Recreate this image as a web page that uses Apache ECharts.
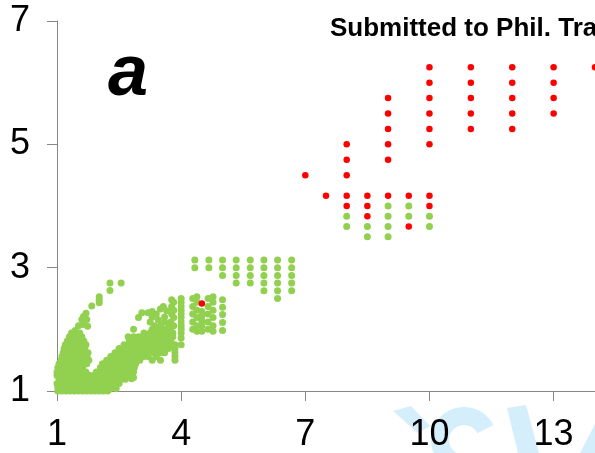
<!DOCTYPE html>
<html>
<head>
<meta charset="utf-8">
<script src="https://cdn.jsdelivr.net/npm/echarts@6/dist/echarts.min.js"></script>
<style>
  html, body { margin: 0; padding: 0; background: #fff; }
  #chart { width: 595px; height: 453px; }
</style>
</head>
<body>
<div id="chart"></div>
<script>
// Dense base of the low-ratio cloud (y close to 1)
var greenBase = [
  [1.02,1],[1.12,1],[1.22,1],[1.32,1],[1.42,1],[1.52,1],[1.62,1],[1.72,1],[1.82,1],[1.92,1],[2.02,1],[2.12,1],[2.22,1],
  [1.07,1.03],[1.27,1.03],[1.47,1.03],[1.67,1.03],[1.87,1.03],[2.07,1.03],[2.27,1.03],[2.43,1.04],
  [1.02,1.06],[1.12,1.06],[1.22,1.06],[1.32,1.06],[1.42,1.06],[1.52,1.06],[1.62,1.06],[1.72,1.06],[1.82,1.06],[1.92,1.06],[2.02,1.06],[2.12,1.06],[2.22,1.06],[2.32,1.06],
  [1,1.12],[1.1,1.12],[1.2,1.12],[1.3,1.12],[1.4,1.12],[1.5,1.12],[1.6,1.12],[1.7,1.12],[1.8,1.12],[1.9,1.12],[2,1.12],[2.1,1.12],[2.2,1.12],[2.3,1.12],[2.4,1.12],[2.5,1.12],
  [1.05,1.19],[1.15,1.19],[1.25,1.19],[1.35,1.19],[1.45,1.19],[1.55,1.19],[1.65,1.19],[1.75,1.19],[1.85,1.19],[1.95,1.19],[2.05,1.19],[2.15,1.19],[2.25,1.19],[2.35,1.19],[2.45,1.19],[2.55,1.19],[2.65,1.19],[2.8,1.2],
  [1,1.25],[1.1,1.25],[1.2,1.25],[1.3,1.25],[1.4,1.25],[1.5,1.25],[1.6,1.25],[1.7,1.25],[1.8,1.25],[1.9,1.25],[2,1.25],[2.1,1.25],[2.2,1.25],[2.3,1.25],[2.4,1.25],[2.5,1.25],[2.6,1.25],[2.7,1.25],[2.85,1.22]
];

// Steep branch rising from x ~ 1
var greenSteep = [
  [1,1.31],[1.1,1.31],[1.2,1.31],[1.3,1.31],[1.4,1.31],[1.5,1.31],[1.6,1.31],[1.7,1.31],
  [1.02,1.38],[1.12,1.38],[1.22,1.38],[1.32,1.38],[1.42,1.38],[1.52,1.38],[1.62,1.38],
  [1.05,1.44],[1.15,1.44],[1.25,1.44],[1.35,1.44],[1.45,1.44],[1.55,1.44],[1.65,1.44],[1.72,1.44],
  [1.1,1.5],[1.2,1.5],[1.3,1.5],[1.4,1.5],[1.5,1.5],[1.6,1.5],[1.7,1.5],[1.77,1.5],
  [1.12,1.56],[1.22,1.56],[1.32,1.56],[1.42,1.56],[1.52,1.56],[1.62,1.56],[1.72,1.56],
  [1.15,1.62],[1.25,1.62],[1.35,1.62],[1.45,1.62],[1.55,1.62],[1.65,1.62],[1.75,1.62],
  [1.17,1.69],[1.27,1.69],[1.37,1.69],[1.47,1.69],[1.57,1.69],[1.67,1.69],
  [1.2,1.75],[1.3,1.75],[1.4,1.75],[1.5,1.75],[1.6,1.75],[1.7,1.75],
  [1.25,1.81],[1.35,1.81],[1.45,1.81],[1.55,1.81],[1.65,1.81],
  [1.3,1.88],[1.4,1.88],[1.5,1.88],[1.6,1.88],
  [1.35,1.94],[1.45,1.94],[1.55,1.94],
  [1.44,1.98],[1.52,2.06],[1.62,2.08],[1.74,2.05],[1.6,2.16],[1.72,2.16],[1.64,2.21],[1.7,2.26],
  [1.84,2.38],[2.02,2.43],[2.02,2.48],[2.02,2.53],[2.28,2.63],[2.28,2.75],[2.55,2.75]
];

// Gentler branch from x ~ 2 up to x ~ 5
var greenShallow = [
  [1.95,1.31],[2.05,1.31],[2.15,1.31],[2.25,1.31],[2.35,1.31],[2.45,1.31],[2.55,1.31],[2.65,1.31],[2.75,1.31],[2.85,1.31],
  [2.05,1.38],[2.15,1.38],[2.25,1.38],[2.35,1.38],[2.45,1.38],[2.55,1.38],[2.65,1.38],[2.75,1.38],[2.87,1.38],
  [2.1,1.44],[2.2,1.44],[2.3,1.44],[2.4,1.44],[2.5,1.44],[2.6,1.44],[2.7,1.44],[2.8,1.44],[2.9,1.44],
  [2.2,1.5],[2.3,1.5],[2.4,1.5],[2.5,1.5],[2.6,1.5],[2.7,1.5],[2.8,1.5],[2.9,1.5],[3,1.5],[3.3,1.5],[3.5,1.5],[3.85,1.5],
  [2.3,1.56],[2.4,1.56],[2.5,1.56],[2.6,1.56],[2.7,1.56],[2.8,1.56],[2.9,1.56],[3,1.56],[3.1,1.56],[3.2,1.56],[3.4,1.56],[3.85,1.56],
  [2.4,1.62],[2.5,1.62],[2.6,1.62],[2.7,1.62],[2.8,1.62],[2.9,1.62],[3,1.62],[3.1,1.62],[3.2,1.62],[3.3,1.62],[3.4,1.62],[3.5,1.62],[3.6,1.62],[3.85,1.62],
  [2.5,1.69],[2.6,1.69],[2.7,1.69],[2.8,1.69],[2.9,1.69],[3,1.69],[3.1,1.69],[3.2,1.69],[3.3,1.69],[3.4,1.69],[3.5,1.69],[3.6,1.69],[3.7,1.69],[3.85,1.69],
  [2.62,1.75],[2.72,1.75],[2.82,1.75],[2.92,1.75],[3.02,1.75],[3.12,1.75],[3.22,1.75],[3.32,1.75],[3.42,1.75],[3.52,1.75],[3.62,1.75],[3.72,1.75],[3.85,1.75],
  [2.75,1.81],[2.85,1.81],[2.95,1.81],[3.05,1.81],[3.15,1.81],[3.25,1.81],[3.35,1.81],[3.45,1.81],[3.55,1.81],[3.65,1.81],[3.75,1.81],
  [2.72,1.88],[2.85,1.88],[2.97,1.88],[3.1,1.88],[3.25,1.88],[3.4,1.88],[3.5,1.88],[3.6,1.88],[3.7,1.88],[3.8,1.88],
  [3.1,1.94],[3.25,1.94],[3.4,1.94],[3.55,1.94],[3.65,1.94],[3.8,1.94],
  [2.85,2.0],[3.3,2.0],[3.45,2.0],[3.6,2.0],[3.75,2.0],
  [2.97,2.19],[3.05,2.27],[3.2,2.27],[3.3,2.29],[3.25,2.12],[3.35,2.06],[3.45,2.15],[3.3,2.2],[3.4,2.25],
  [3.5,2.33],[3.57,2.37],[3.5,2.06],[3.6,2.2],[3.6,2.12],[3.65,2.3],[3.7,2.06],[3.75,2.12],
  [3.77,2.25],[3.77,2.37],[3.77,2.48],[3.82,2.06],[3.82,2.19],[3.82,2.31],[3.82,2.44],
  [4,1.75],[4,1.86],[4,1.94],[4,2],[4,2.06],[4,2.12],[4,2.19],[4,2.25],[4,2.31],[4,2.37],[4,2.44],[4,2.5],
  [4.28,2],[4.28,2.12],[4.28,2.25],[4.28,2.37],[4.28,2.5],
  [4.38,1.97],[4.38,2.06],[4.38,2.19],[4.38,2.31],[4.38,2.44],[4.38,2.53],
  [4.5,1.97],[4.5,2.06],[4.5,2.14],[4.5,2.22],[4.5,2.29],
  [4.65,2],[4.65,2.12],[4.65,2.25],[4.65,2.37],[4.65,2.5],
  [4.77,1.97],[4.77,2.06],[4.77,2.19],[4.77,2.31],[4.77,2.44],[4.77,2.53],
  [5,1.98],[5,2.11],[5,2.24],[5,2.36],[5,2.48]
];

// Regular grid between x = 4.33 and 6.67
var greenGrid = [
  [4.33,3.125],[4.33,3],
  [4.67,3.125],[4.67,3],
  [5,3.125],[5,3],[5,2.875],
  [5.33,3.125],[5.33,3],[5.33,2.875],[5.33,2.75],
  [5.67,3.125],[5.67,3],[5.67,2.875],[5.67,2.75],
  [6,3.125],[6,3],[6,2.875],[6,2.75],[6,2.625],
  [6.33,3.125],[6.33,3],[6.33,2.875],[6.33,2.75],[6.33,2.625],[6.33,2.5],
  [6.67,3.125],[6.67,3],[6.67,2.875],[6.67,2.75],[6.67,2.625]
];

// Green points among the high-ratio block
var greenHigh = [
  [9,4],[9.5,4],
  [8,3.833],[9,3.833],[9.5,3.833],[10,3.833],
  [8,3.667],[8.5,3.667],[9,3.667],[10,3.667],
  [8.5,3.5],[9,3.5]
];

var redPoints = [
  [4.5,2.42],
  [7,4.5],
  [7.5,4.167],[8,4.167],[8.5,4.167],[9,4.167],[9.5,4.167],[10,4.167],
  [8,4],[8.5,4],[10,4],
  [8.5,3.833],
  [9.5,3.667],
  [8,5],[8,4.75],[8,4.5],
  [9,5.75],[9,5.5],[9,5.25],[9,5],[9,4.75],
  [10,6.25],[10,6],[10,5.75],[10,5.5],[10,5.25],[10,5],
  [11,6.25],[11,6],[11,5.75],[11,5.5],[11,5.25],
  [12,6.25],[12,6],[12,5.75],[12,5.5],[12,5.25],
  [13,6.25],[13,6],[13,5.75],[13,5.5],
  [14,6.25]
];

var xRange = { min: 1, max: 14, step: 3 };
var yRange = { min: 1, max: 7, step: 2 };

var greenPoints = [].concat(greenBase, greenSteep, greenShallow, greenGrid, greenHigh);

var FONT = '"Liberation Sans", Arial, sans-serif';
var AXIS_GREY = '#878787';
var WM = '#d5eefb';

var chart = echarts.init(document.getElementById('chart'), null, { renderer: 'canvas' });

var axisCommon = {
  type: 'value',
  splitLine: { show: false },
  axisLine: { show: true, lineStyle: { color: AXIS_GREY, width: 1 } },
  axisTick: { show: true, inside: false, length: 10, lineStyle: { color: AXIS_GREY, width: 1 } },
  axisLabel: { color: '#000', fontSize: 36, fontFamily: FONT }
};

chart.setOption({
  animation: false,
  backgroundColor: '#fff',
  grid: { left: 57, right: -1, top: 21, bottom: 62, containLabel: false },
  xAxis: echarts.util.merge({
    min: xRange.min, max: xRange.max, interval: xRange.step,
    axisLabel: { margin: 26, showMaxLabel: false }
  }, axisCommon),
  yAxis: echarts.util.merge({
    min: yRange.min, max: yRange.max, interval: yRange.step,
    axisLabel: { margin: 27 }
  }, axisCommon),
  graphic: [
    // faint watermark strokes behind the lower-right labels
    { type: 'polygon', z: -10, silent: true, shape: { points: [[393,411],[411,406],[430,426],[418,433]] }, style: { fill: WM } },
    { type: 'sector', z: -10, silent: true, shape: { cx: 464, cy: 440, r: 33, r0: 15, startAngle: Math.PI * 0.35, endAngle: Math.PI * 1.85 }, style: { fill: WM } },
    { type: 'polygon', z: -10, silent: true, shape: { points: [[507,408],[526,405],[539,453],[518,453]] }, style: { fill: WM } },
    { type: 'polygon', z: -10, silent: true, shape: { points: [[595,424],[595,453],[580,453]] }, style: { fill: WM } },
    // panel letter and header
    { type: 'text', z: 10, x: 108, y: 75, style: { text: 'a', font: 'italic bold 72px ' + FONT, fill: '#000', verticalAlign: 'middle' } },
    { type: 'text', z: 10, x: 330, y: 29, style: { text: 'Submitted to Phil. Trans.', font: 'bold 26px ' + FONT, fill: '#000', verticalAlign: 'middle' } }
  ],
  series: [
    {
      type: 'scatter', name: 'green', data: greenPoints, symbol: 'circle', symbolSize: 7, clip: false,
      itemStyle: { color: '#92d050', opacity: 1 }, z: 3
    },
    {
      type: 'scatter', name: 'red', data: redPoints, symbol: 'circle', symbolSize: 6.5, clip: false,
      itemStyle: { color: '#ff0000', opacity: 1 }, z: 4
    }
  ]
});
</script>
</body>
</html>
